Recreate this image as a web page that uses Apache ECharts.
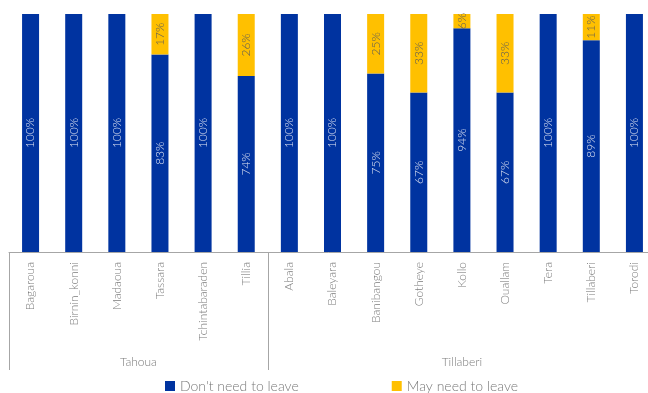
<!DOCTYPE html>
<html>
<head>
<meta charset="utf-8">
<script src="https://cdn.jsdelivr.net/npm/echarts@6/dist/echarts.min.js"></script>
<style>
  html, body { margin: 0; padding: 0; background: #fff; }
  #chart { width: 648px; height: 393px; }
</style>
</head>
<body>
<div id="chart"></div>
<script>
const districts = [
  'Bagaroua', 'Birnin_konni', 'Madaoua', 'Tassara', 'Tchintabaraden', 'Tillia',
  'Abala', 'Baleyara', 'Banibangou', 'Gotheye', 'Kollo', 'Ouallam', 'Tera', 'Tillaberi', 'Torodi'
]
const dontNeed = [100, 100, 100, 83, 100, 74, 100, 100, 75, 67, 94, 67, 100, 89, 100]
const mayNeed = [0, 0, 0, 17, 0, 26, 0, 0, 25, 33, 6, 33, 0, 11, 0]
const regions = ['Tahoua', 'Tillaberi']
const regionBounds = [0, 6, 15] // category index boundaries
const regionCenters = [3, 10.5]

const font = 'Lato, "Open Sans", sans-serif'
const grey = '#7c7c7c'

const chart = echarts.init(document.getElementById('chart'))

const pct = p => (p.value ? p.value + '%' : '')

chart.setOption({
  animation: false,
  textStyle: { fontFamily: font, fontWeight: 300 },
  grid: { left: 9, width: 647, top: 14, bottom: 141, outerBoundsMode: 'none', containLabel: false },
  legend: {
    left: 165, top: 379,
    padding: 0,
    itemWidth: 10, itemHeight: 10, itemGap: 93,
    icon: 'rect',
    textStyle: { fontSize: 14, color: '#7a7a7a', fontFamily: font, fontWeight: 300 },
    data: ["Don't need to leave", 'May need to leave']
  },
  xAxis: [
    {
      type: 'category',
      data: districts,
      axisTick: { show: false },
      axisLine: { lineStyle: { color: '#a6a6a6', width: 1 } },
      axisLabel: { interval: 0, rotate: 90, margin: 10, fontSize: 12, color: grey, fontFamily: font, fontWeight: 300 }
    },
    {
      type: 'value',
      min: 0, max: 15,
      position: 'bottom',
      axisLine: { show: false },
      splitLine: { show: false },
      axisTick: { show: true, customValues: regionBounds, length: 118, lineStyle: { color: '#a6a6a6' } },
      axisLabel: {
        customValues: regionCenters,
        margin: 104,
        fontSize: 12, color: grey, fontFamily: font, fontWeight: 300,
        formatter: v => regions[regionCenters.indexOf(v)] || ''
      }
    }
  ],
  yAxis: { type: 'value', min: 0, max: 100, show: false },
  series: [
    {
      name: "Don't need to leave",
      type: 'bar', stack: 'all', barWidth: 17,
      data: dontNeed,
      itemStyle: { color: '#0033a0' },
      label: { show: true, position: 'inside', rotate: 90, color: '#dfe4f2', fontSize: 12, fontFamily: font, fontWeight: 300, formatter: pct }
    },
    {
      name: 'May need to leave',
      type: 'bar', stack: 'all', barWidth: 17,
      data: mayNeed,
      itemStyle: { color: '#ffc000' },
      label: { show: true, position: 'inside', rotate: 90, color: '#5a5a5a', fontSize: 12, fontFamily: font, fontWeight: 300, formatter: pct }
    }
  ]
})
</script>
</body>
</html>
